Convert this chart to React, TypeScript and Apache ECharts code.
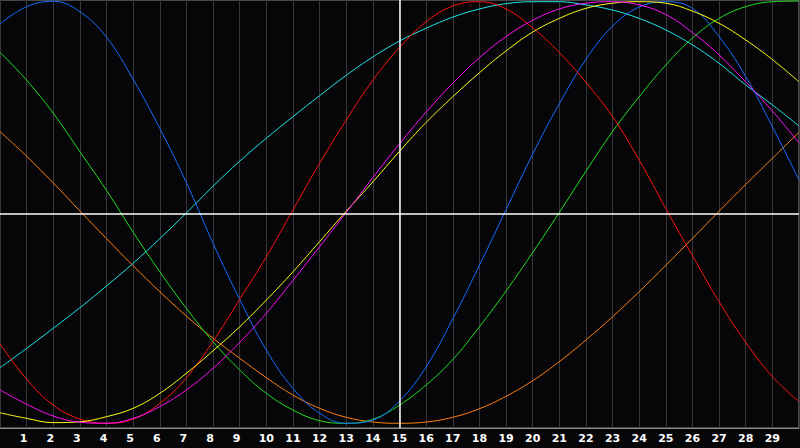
import React, { useEffect, useRef } from "react";
import * as echarts from "echarts";

const X_VALUES = [0, 1, 2, 3, 4, 5, 6, 7, 8, 9, 10, 11, 12, 13, 14, 15, 16, 17, 18, 19, 20, 21, 22, 23, 24, 25, 26, 27, 28, 29, 30];
const TICK_LABELS = ["1", "2", "3", "4", "5", "6", "7", "8", "9", "10", "11", "12", "13", "14", "15", "16", "17", "18", "19", "20", "21", "22", "23", "24", "25", "26", "27", "28", "29"];

const BLUE = [0.888, 0.969, 0.994, 0.945, 0.826, 0.629, 0.4, 0.146, -0.137, -0.399, -0.636, -0.815, -0.931, -0.978, -0.963, -0.874, -0.714, -0.49, -0.24, 0.02, 0.28, 0.515, 0.722, 0.878, 0.967, 0.992, 0.961, 0.829, 0.642, 0.408, 0.159];
const GREEN = [0.756, 0.625, 0.471, 0.291, 0.11, -0.085, -0.27, -0.441, -0.597, -0.729, -0.838, -0.916, -0.966, -0.978, -0.959, -0.893, -0.799, -0.68, -0.527, -0.36, -0.18, 0.007, 0.2, 0.385, 0.548, 0.696, 0.822, 0.914, 0.969, 0.992, 0.995];
const ORANGE = [0.385, 0.27, 0.145, 0.014, -0.115, -0.242, -0.363, -0.477, -0.581, -0.674, -0.765, -0.846, -0.908, -0.95, -0.972, -0.978, -0.972, -0.95, -0.91, -0.852, -0.779, -0.69, -0.589, -0.48, -0.363, -0.24, -0.114, 0.013, 0.138, 0.26, 0.382];
const CYAN = [-0.718, -0.628, -0.534, -0.438, -0.336, -0.23, -0.115, 0.005, 0.13, 0.247, 0.354, 0.455, 0.553, 0.648, 0.734, 0.808, 0.868, 0.92, 0.958, 0.983, 0.992, 0.992, 0.977, 0.953, 0.914, 0.86, 0.79, 0.704, 0.603, 0.51, 0.411];
const RED = [-0.607, -0.772, -0.893, -0.958, -0.978, -0.959, -0.885, -0.765, -0.595, -0.399, -0.2, 0.019, 0.237, 0.439, 0.625, 0.778, 0.898, 0.972, 0.992, 0.958, 0.87, 0.755, 0.615, 0.455, 0.252, 0.025, -0.195, -0.41, -0.6, -0.76, -0.877];
const MAGENTA = [-0.822, -0.889, -0.944, -0.973, -0.978, -0.955, -0.9, -0.822, -0.721, -0.6, -0.464, -0.31, -0.153, 0.007, 0.17, 0.328, 0.476, 0.611, 0.73, 0.829, 0.905, 0.958, 0.985, 0.992, 0.977, 0.932, 0.848, 0.743, 0.617, 0.481, 0.333];
const YELLOW = [-0.929, -0.955, -0.975, -0.971, -0.947, -0.908, -0.838, -0.744, -0.639, -0.527, -0.402, -0.27, -0.129, 0.013, 0.15, 0.293, 0.428, 0.548, 0.66, 0.762, 0.85, 0.914, 0.961, 0.985, 0.992, 0.985, 0.948, 0.891, 0.813, 0.722, 0.618];

const SERIES = [
  { name: "orange", color: "#ff8010", values: ORANGE },
  { name: "cyan", color: "#1ee6e6", values: CYAN },
  { name: "green", color: "#22e022", values: GREEN },
  { name: "blue", color: "#146eff", values: BLUE },
  { name: "red", color: "#ff1010", values: RED },
  { name: "yellow", color: "#ffff10", values: YELLOW },
  { name: "magenta", color: "#ff10ff", values: MAGENTA },
];

export default function App() {
  const ref = useRef<HTMLDivElement>(null);
  useEffect(() => {
    if (!ref.current) return;
    const chart = echarts.init(ref.current, undefined, { renderer: "svg" });
    const series: any[] = SERIES.map((s) => ({
      type: "line",
      name: s.name,
      data: X_VALUES.map((x, i) => [x, s.values[i]]),
      smooth: 0.4,
      showSymbol: false,
      symbol: "none",
      lineStyle: { color: s.color, width: 1 },
      itemStyle: { color: s.color },
      silent: true,
      z: 3,
    }));
    series.push({
      type: "line",
      data: [],
      silent: true,
      z: 2,
      markLine: {
        silent: true,
        symbol: "none",
        label: { show: false },
        lineStyle: { color: "#ffffff", width: 1.5, type: "solid" },
        data: [{ xAxis: 15 }, { yAxis: 0 }],
      },
    });
    chart.setOption({
      animation: false,
      backgroundColor: "#060608",
      grid: {
        left: 0,
        right: 1,
        top: 0,
        bottom: 20,
        show: true,
        borderColor: "#8a8a8a",
        borderWidth: 1,
        backgroundColor: "#060608",
      },
      xAxis: {
        type: "value",
        min: 0,
        max: 30,
        interval: 1,
        axisLine: { show: true, onZero: false, lineStyle: { color: "#8a8a8a", width: 1 } },
        axisTick: { show: false },
        splitLine: { show: true, lineStyle: { color: "#38383c", width: 1 } },
        axisLabel: {
          color: "#ffffff",
          fontWeight: "bold",
          fontSize: 11,
          fontFamily: "DejaVu Sans",
          margin: 5,
          showMinLabel: false,
          showMaxLabel: false,
          rich: {
            one: { color: "#ffffff", fontWeight: "bold", fontSize: 11, fontFamily: "DejaVu Sans", padding: [0, 6, 0, 0] },
          },
          formatter: (v: number) => {
            const idx = Math.round(v) - 1;
            if (idx < 0 || idx >= TICK_LABELS.length) return "";
            const t = TICK_LABELS[idx];
            return t.length === 1 ? `{one|${t}}` : t;
          },
        },
      },
      yAxis: {
        type: "value",
        min: -1,
        max: 1,
        axisLine: { show: false },
        axisTick: { show: false },
        axisLabel: { show: false },
        splitLine: { show: false },
      },
      series,
    });
    return () => chart.dispose();
  }, []);
  return (
    <div
      ref={ref}
      style={{ position: "fixed", left: 0, top: 0, width: 800, height: 448, background: "#060608" }}
    />
  );
}
